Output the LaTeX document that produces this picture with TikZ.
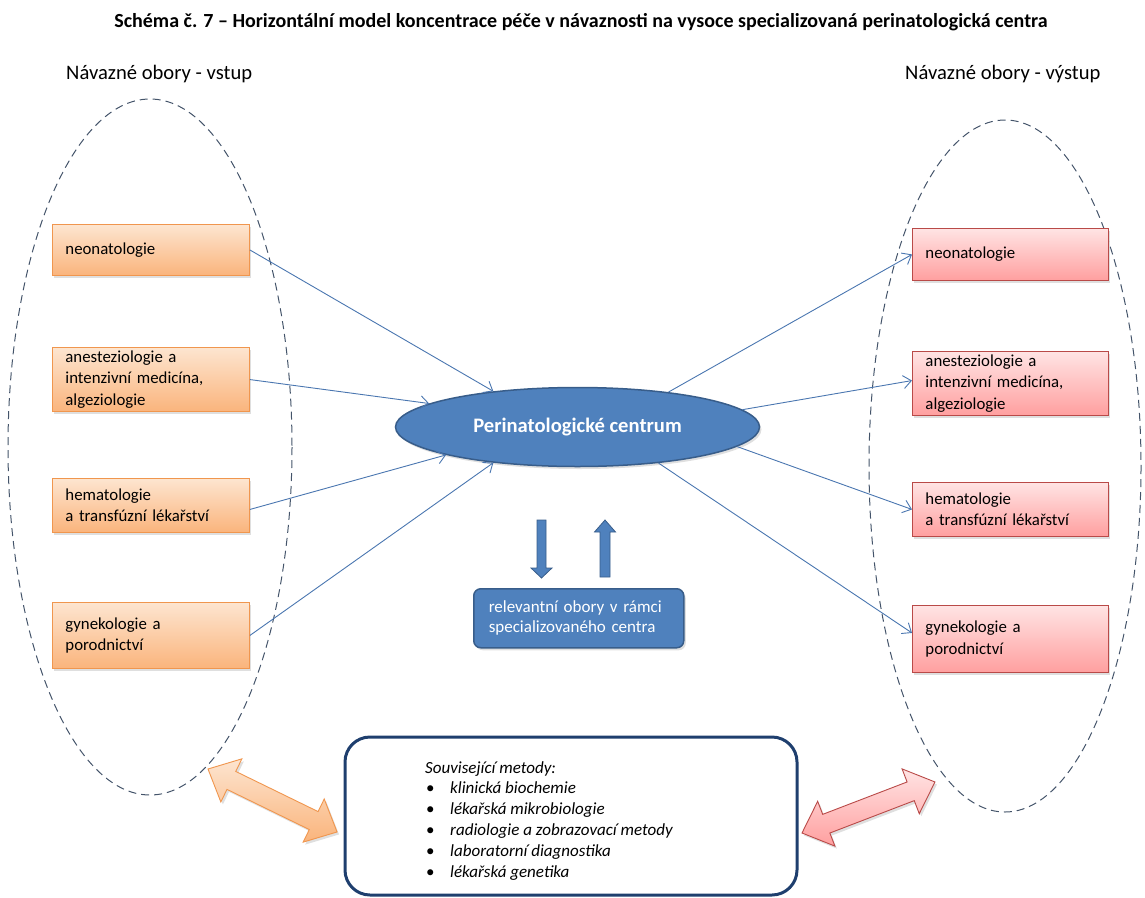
\documentclass[tikz,border=0pt]{standalone}
\usepackage{fontspec}
\setmainfont{Carlito}
\usetikzlibrary{shapes.geometric,shadows,arrows.meta,calc}
\definecolor{orB}{HTML}{F0964E}
\definecolor{orT}{HTML}{FDE5D0}
\definecolor{orD}{HTML}{FAB47C}
\definecolor{pkB}{HTML}{B94A48}
\definecolor{pkT}{HTML}{FFE4E4}
\definecolor{pkD}{HTML}{FF9F9F}
\definecolor{blF}{HTML}{4F81BD}
\definecolor{blB}{HTML}{385D8A}
\definecolor{conn}{HTML}{4A76B0}
\definecolor{dash}{HTML}{44546A}
\definecolor{navy}{HTML}{1F3F6E}
\begin{document}
\begin{tikzpicture}[x=1pt,y=-1pt,
  every node/.style={font=\fontsize{16.8}{21.5}\selectfont},
  shad/.style={drop shadow={opacity=0.25,shadow xshift=2pt,shadow yshift=-2.5pt}},
  lbox/.style={draw=orB,line width=0.9pt,top color=orT,bottom color=orD,shad,
    anchor=north west,minimum width=197pt,text width=171pt,inner xsep=13pt,align=left},
  rbox/.style={draw=pkB,line width=0.9pt,top color=pkT,bottom color=pkD,shad,
    anchor=north west,minimum width=196pt,text width=170pt,inner xsep=13pt,align=left},
  conline/.style={draw=conn,line width=0.9pt,-{Straight Barb[length=8pt,width=13pt]}},
  dashell/.style={draw=dash,line width=1pt,dash pattern=on 8pt off 5pt},
  blockarrow/.style={fill=blF,draw=blB,line width=0.8pt}
]
\useasboundingbox (0,0) rectangle (1145,897);

% title and headings
\node[font=\fontsize{20}{22}\selectfont\bfseries] (title) at (581,22)
  {Schéma č. 7 – Horizontální model koncentrace péče v návaznosti na vysoce specializovaná perinatologická centra};
\node[anchor=west,inner sep=0,font=\fontsize{20.6}{24}\selectfont] (hin) at (66,74) {Návazné obory - vstup};
\node[anchor=west,inner sep=0,font=\fontsize{20.6}{24}\selectfont] (hout) at (905,74) {Návazné obory - výstup};

% dashed ellipses
\draw[dashell] (150,447) ellipse [x radius=142, y radius=348];
\draw[dashell] (1005,466) ellipse [x radius=136, y radius=346];

% central ellipse
\node[ellipse,fill=blF,draw=blB,line width=1.5pt,minimum width=364pt,minimum height=79pt,
  inner sep=0,text=white,font=\fontsize{20.6}{24}\selectfont\bfseries,shad] (pc) at (577.5,427)
  {Perinatologické centrum};

% left boxes
\node[lbox,minimum height=51pt] (L1) at (52,224) {neonatologie};
\node[lbox,minimum height=62pt] (L2) at (52,347) {anesteziologie a\\intenzivní medicína,\\algeziologie};
\node[lbox,minimum height=54pt] (L3) at (52,478) {hematologie\\a transfúzní lékařství};
\node[lbox,minimum height=66pt] (L4) at (52,602) {gynekologie a\\porodnictví};

% right boxes
\node[rbox,minimum height=52pt] (R1) at (912,228) {neonatologie};
\node[rbox,minimum height=62pt] (R2) at (912,351) {anesteziologie a\\intenzivní medicína,\\algeziologie};
\node[rbox,minimum height=54pt] (R3) at (912,482) {hematologie\\a transfúzní lékařství};
\node[rbox,minimum height=67pt] (R4) at (912,605) {gynekologie a\\porodnictví};

% connectors
\draw[conline] (L1.east) -- (pc.157);
\draw[conline] (L2.east) -- (pc.171);
\draw[conline] ([yshift=-4pt]L3.east) -- (pc.192.6);
\draw[conline] (L4.east) -- (pc.203.8);
\draw[conline] (pc.21.8) -- (R1.west);
\draw[conline] (pc.6.4) -- ([yshift=3pt]R2.west);
\draw[conline] (pc.-7.3) -- (R3.west);
\draw[conline] (pc.-24) -- ([yshift=6pt]R4.west);

% vertical block arrows
\draw[blockarrow] (537,520) -- (546,520) -- (546,568) -- (552,568) -- (541.5,578) -- (531,568) -- (537,568) -- cycle;
\draw[blockarrow] (600,577) -- (610,577) -- (610,532) -- (615.5,532) -- (605,520) -- (594.5,532) -- (600,532) -- cycle;

% relevant fields box
\node[draw=blB,fill=blF,line width=1.5pt,rounded corners=7pt,anchor=north west,
  minimum width=210pt,minimum height=59pt,text=white,align=left,text width=180pt,inner xsep=15pt,
  font=\fontsize{17}{20}\selectfont,shad] (rel) at (473,588)
  {relevantní obory v rámci\\specializovaného centra};

% bottom methods box
\draw[draw=navy,line width=3pt,rounded corners=25pt] (345,737) rectangle (797,895);
\node[anchor=north west,align=left,inner sep=0,
  font=\fontsize{17}{20.8}\selectfont\itshape] (met) at (425,761)
  {Související metody:\\
   \hspace*{1pt}\makebox[24pt][l]{\upshape\textbullet}klinická biochemie\\
   \hspace*{1pt}\makebox[24pt][l]{\upshape\textbullet}lékařská mikrobiologie\\
   \hspace*{1pt}\makebox[24pt][l]{\upshape\textbullet}radiologie a zobrazovací metody\\
   \hspace*{1pt}\makebox[24pt][l]{\upshape\textbullet}laboratorní diagnostika\\
   \hspace*{1pt}\makebox[24pt][l]{\upshape\textbullet}lékařská genetika};

% double arrows
\begin{scope}[shift={(208,769)},rotate=-26]
  \draw[draw=orB,line width=0.9pt,top color=orT,bottom color=orD,shad]
    (0,0) -- (26,-24) -- (26,-10) -- (117.6,-10) -- (117.6,-24) -- (143.6,0)
    -- (117.6,24) -- (117.6,10) -- (26,10) -- (26,24) -- cycle;
\end{scope}
\begin{scope}[shift={(802,833)},rotate=21]
  \draw[draw=pkB,line width=0.9pt,top color=pkT,bottom color=pkD,shad]
    (0,0) -- (26,-24) -- (26,-10) -- (116.4,-10) -- (116.4,-24) -- (142.4,0)
    -- (116.4,24) -- (116.4,10) -- (26,10) -- (26,24) -- cycle;
\end{scope}
\end{tikzpicture}
\end{document}
